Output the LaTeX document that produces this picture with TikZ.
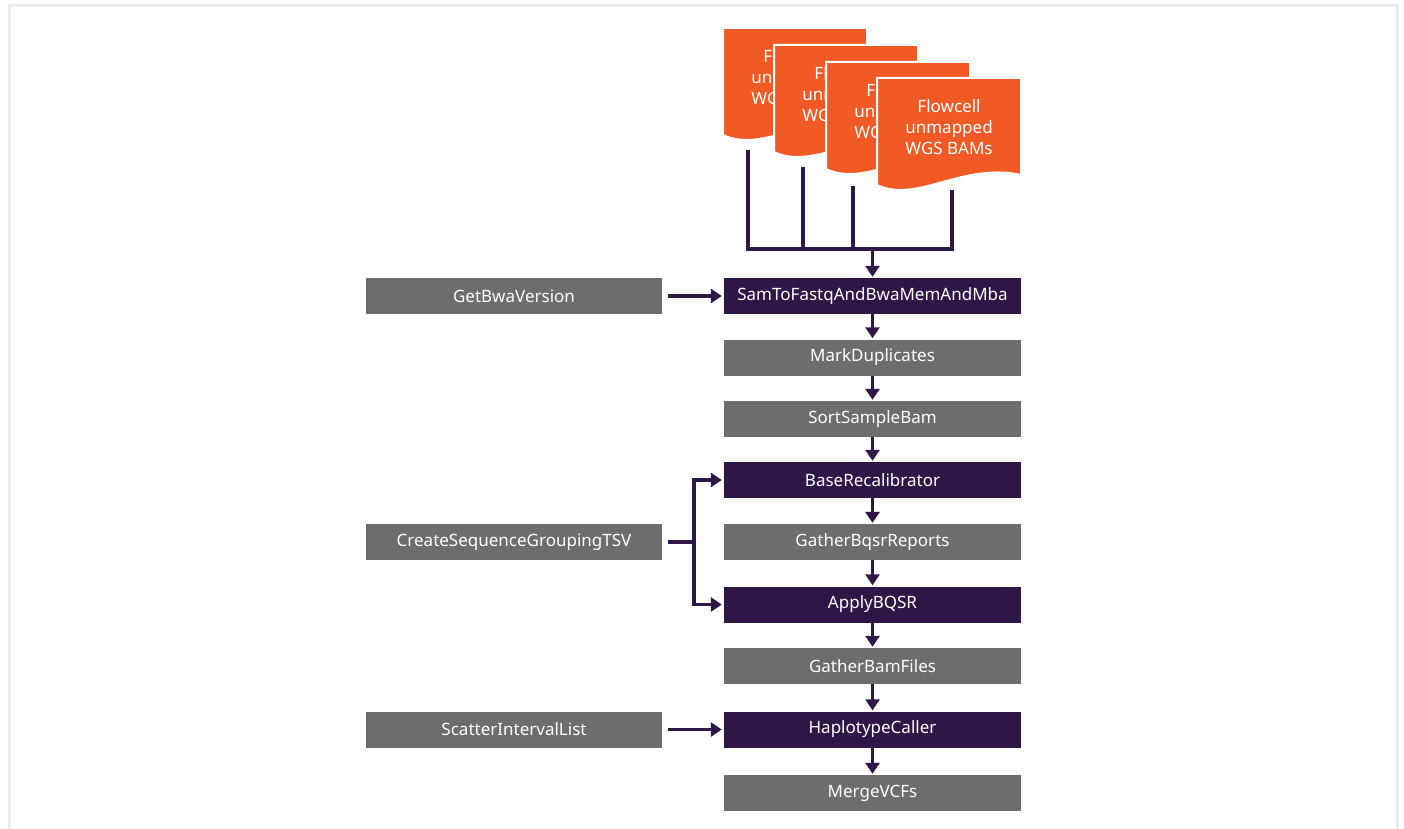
\documentclass[tikz,border=0pt]{standalone}
\usepackage{fontspec}
\setmainfont{Noto Sans}
\usetikzlibrary{arrows.meta}
\definecolor{orng}{HTML}{F15A24}
\definecolor{dpurp}{HTML}{2E1647}
\definecolor{gbox}{HTML}{6D6D6D}
\definecolor{framecol}{HTML}{ECECEC}
\begin{document}
\begin{tikzpicture}[x=1pt,y=-1pt,
 box/.style={minimum width=297pt,minimum height=36pt,inner sep=0pt,text=white,font=\fontsize{17}{20}\selectfont},
 graybox/.style={box,fill=gbox},
 darkbox/.style={box,fill=dpurp},
 sidebox/.style={box,fill=gbox,minimum width=296pt},
 conn/.style={draw=dpurp,line width=3.3pt},
 arr/.style={conn,-{Triangle[length=11pt,width=14pt]}},
 docshape/.style={fill=orng,draw=white,line width=2pt},
 doctext/.style={text=white,align=center,font=\fontsize{17}{21}\selectfont,inner sep=0pt}
]
\useasboundingbox (0,0) rectangle (1404,829);
\fill[white] (0,0) rectangle (1404,829);
\draw[framecol,line width=3pt] (9.5,5.5) rectangle (1397.5,880);

% documents
\foreach \x/\y/\n in {723/28/1,774/45/2,826/62/3,877/78/4}{
  \filldraw[docshape] (\x,\y) -- (\x+144,\y) -- (\x+144,\y+97)
    .. controls (\x+85,\y+84) and (\x+40,\y+126) .. (\x,\y+107) -- cycle;
  \node[doctext] (doc\n) at (\x+72,\y+49) {Flowcell\\unmapped\\WGS BAMs};
}

% main column
\node[darkbox] (sam)   at (872.5,296)   {SamToFastqAndBwaMemAndMba};
\node[graybox] (mark)  at (872.5,357.5) {MarkDuplicates};
\node[graybox] (sort)  at (872.5,419)   {SortSampleBam};
\node[darkbox] (base)  at (872.5,480)   {BaseRecalibrator};
\node[graybox] (gbq)   at (872.5,542)   {GatherBqsrReports};
\node[darkbox] (apply) at (872.5,604.5) {ApplyBQSR};
\node[graybox] (gbam)  at (872.5,666)   {GatherBamFiles};
\node[darkbox] (hap)   at (872.5,729.5) {HaplotypeCaller};
\node[graybox] (merge) at (872.5,793)   {MergeVCFs};

% side column
\node[sidebox] (bwa) at (514,296)   {GetBwaVersion};
\node[sidebox] (csg) at (514,542)   {CreateSequenceGroupingTSV};
\node[sidebox] (sil) at (514,729.5) {ScatterIntervalList};

% document connectors
\coordinate (b1) at (748,150);
\coordinate (b2) at (803,167);
\coordinate (b3) at (853,186);
\coordinate (b4) at (952,190);
\coordinate (j) at (872.5,249);
\draw[conn,line join=miter] (b1) -- (b1|-j) -- (b4|-j) -- (b4);
\draw[conn] (b2) -- (b2|-j);
\draw[conn] (b3) -- (b3|-j);
\draw[arr,shorten >=1pt] (j) -- (sam);

% vertical chain
\foreach \a/\b in {sam/mark,mark/sort,sort/base,base/gbq,gbq/apply,apply/gbam,gbam/hap,hap/merge}
  \draw[arr,shorten >=1pt] (\a) -- (\b);

% side arrows
\draw[arr,shorten <=6pt,shorten >=2pt] (bwa) -- (sam);
\draw[arr,shorten <=6pt,shorten >=2pt] (sil) -- (hap);
\coordinate (split) at (694,542);
\draw[conn,shorten <=6pt] (csg.east) -- (split);
\draw[arr,line join=miter,shorten >=2pt] (split) |- (base.west);
\draw[arr,line join=miter,shorten >=2pt] (split) |- (apply.west);
\end{tikzpicture}
\end{document}
